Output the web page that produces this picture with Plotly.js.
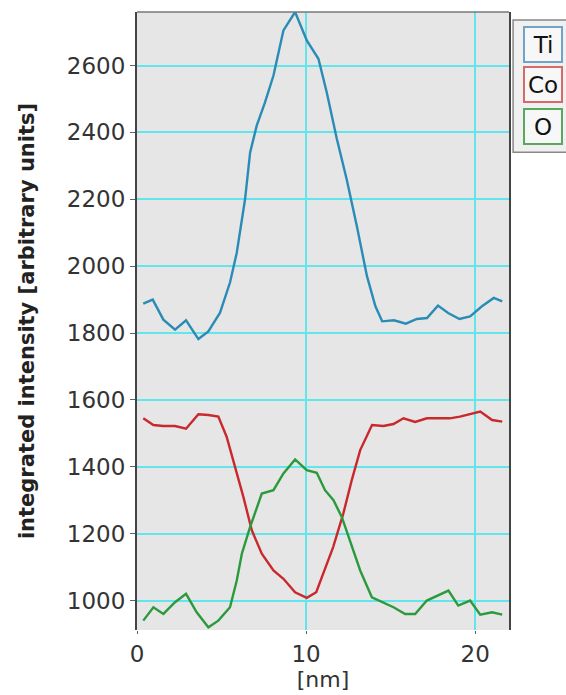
<!DOCTYPE html>
<html>
<head>
<meta charset="utf-8">
<script src="https://cdn.plot.ly/plotly-3.0.1.min.js"></script>
<style>html,body{margin:0;padding:0;background:#fff}#chart{width:566px;height:695px}</style>
</head>
<body>
<div id="chart"></div>
<script>
// Data
const tiX = [0.37,0.93,1.56,2.25,2.9,3.63,4.22,4.91,5.5,5.9,6.39,6.69,7.08,7.57,8.07,8.66,9.35,10.04,10.73,11.22,11.82,12.4,13.0,13.6,14.1,14.5,15.2,15.9,16.55,17.15,17.8,18.4,19.07,19.7,20.4,21.1,21.6];
const tiY = [1888,1900,1840,1810,1838,1782,1805,1861,1951,2040,2200,2340,2420,2490,2570,2705,2760,2675,2620,2520,2380,2260,2120,1970,1880,1835,1838,1828,1842,1845,1882,1860,1842,1850,1880,1905,1895];

const coX = [0.37,0.97,1.56,2.25,2.9,3.63,4.22,4.81,5.3,5.8,6.29,6.79,7.38,8.07,8.66,9.35,10.04,10.6,11.02,11.6,12.2,12.7,13.2,13.9,14.57,15.17,15.76,16.45,17.14,17.83,18.5,19.1,19.8,20.3,21.0,21.6];
const coY = [1545,1525,1522,1522,1514,1557,1555,1550,1490,1400,1310,1210,1140,1090,1065,1025,1008,1025,1080,1160,1260,1360,1450,1525,1522,1528,1545,1534,1545,1545,1545,1550,1558,1565,1540,1535];

const oX = [0.37,0.97,1.56,2.25,2.9,3.53,4.22,4.81,5.5,5.9,6.2,6.69,7.38,8.07,8.66,9.35,10.04,10.63,11.12,11.62,12.11,12.6,13.2,13.89,14.57,15.17,15.86,16.45,17.14,17.73,18.42,19.0,19.7,20.3,21.0,21.6];
const oY = [940,980,960,995,1020,965,920,940,980,1060,1140,1220,1320,1330,1380,1422,1390,1382,1330,1300,1250,1180,1090,1010,995,980,960,960,1000,1015,1030,985,1000,958,965,958];

const seriesNames = ["Ti","Co","O"];
const seriesColors = ["#2a8cb6","#c9282d","#2a9a3c"];
const boxColors = ["#6fa3c8","#d46a6a","#5aa860"];
const xTicks = [0,10,20];
const yTicks = [1000,1200,1400,1600,1800,2000,2200,2400,2600];

const xs = [tiX, coX, oX], ys = [tiY, coY, oY];
const traces = seriesNames.map((n,i)=>({
  x: xs[i], y: ys[i], name: n, type: 'scatter', mode: 'lines',
  line: {color: seriesColors[i], width: 2.4},
  showlegend: false
}));

const font = "DejaVu Sans, sans-serif";
const legendY = [0.947, 0.882, 0.814];
const annotations = seriesNames.map((n,i)=>({
  xref:'paper', yref:'paper', x:1.091, y:legendY[i], xanchor:'center', yanchor:'middle',
  text:n, showarrow:false, font:{family:font, size:23, color:'#111'},
  bgcolor:'#f7f7f7', bordercolor:boxColors[i], borderwidth:2, borderpad:2,
  width:32, height:29
}));

const layout = {
  width: 566, height: 695,
  margin: {l:137, r:57, t:12, b:65},
  paper_bgcolor: '#ffffff',
  plot_bgcolor: '#e6e6e6',
  font: {family: font, color: '#333'},
  xaxis: {
    range: [0, 22], tickvals: xTicks, ticktext: xTicks.map(String),
    showgrid: true, gridcolor: '#62e6ec', gridwidth: 2,
    zeroline: false, showline: false,
    ticks: 'outside', ticklen: 3, tickcolor: '#666',
    tickfont: {family: font, size: 23, color: '#333'},
    title: {text: '[nm]', font: {family: font, size: 22, color: '#333'}, standoff: 3}
  },
  yaxis: {
    range: [912, 2760], tickvals: yTicks, ticktext: yTicks.map(String),
    showgrid: true, gridcolor: '#62e6ec', gridwidth: 2,
    zeroline: false, showline: true, linecolor: '#444', linewidth: 2, mirror: true,
    ticks: 'outside', ticklen: 5, tickcolor: '#666',
    tickfont: {family: font, size: 23, color: '#333'},
    title: {text: 'integrated intensity [arbitrary units]', font: {family: font, size: 21, color: '#222', weight: 'bold'}, standoff: 27}
  },
  shapes: [
    {type:'line', xref:'paper', yref:'paper', x0:0, x1:1, y0:1, y1:1, line:{color:'#777', width:1.5}},
    {type:'rect', xref:'paper', yref:'paper', x0:1.011, x1:1.2, y0:0.773, y1:0.987, fillcolor:'#f0f0f0', line:{color:'#888', width:1.5}, layer:'below'}
  ],
  annotations: annotations
};

Plotly.newPlot('chart', traces, layout, {staticPlot: true});
</script>
</body>
</html>
